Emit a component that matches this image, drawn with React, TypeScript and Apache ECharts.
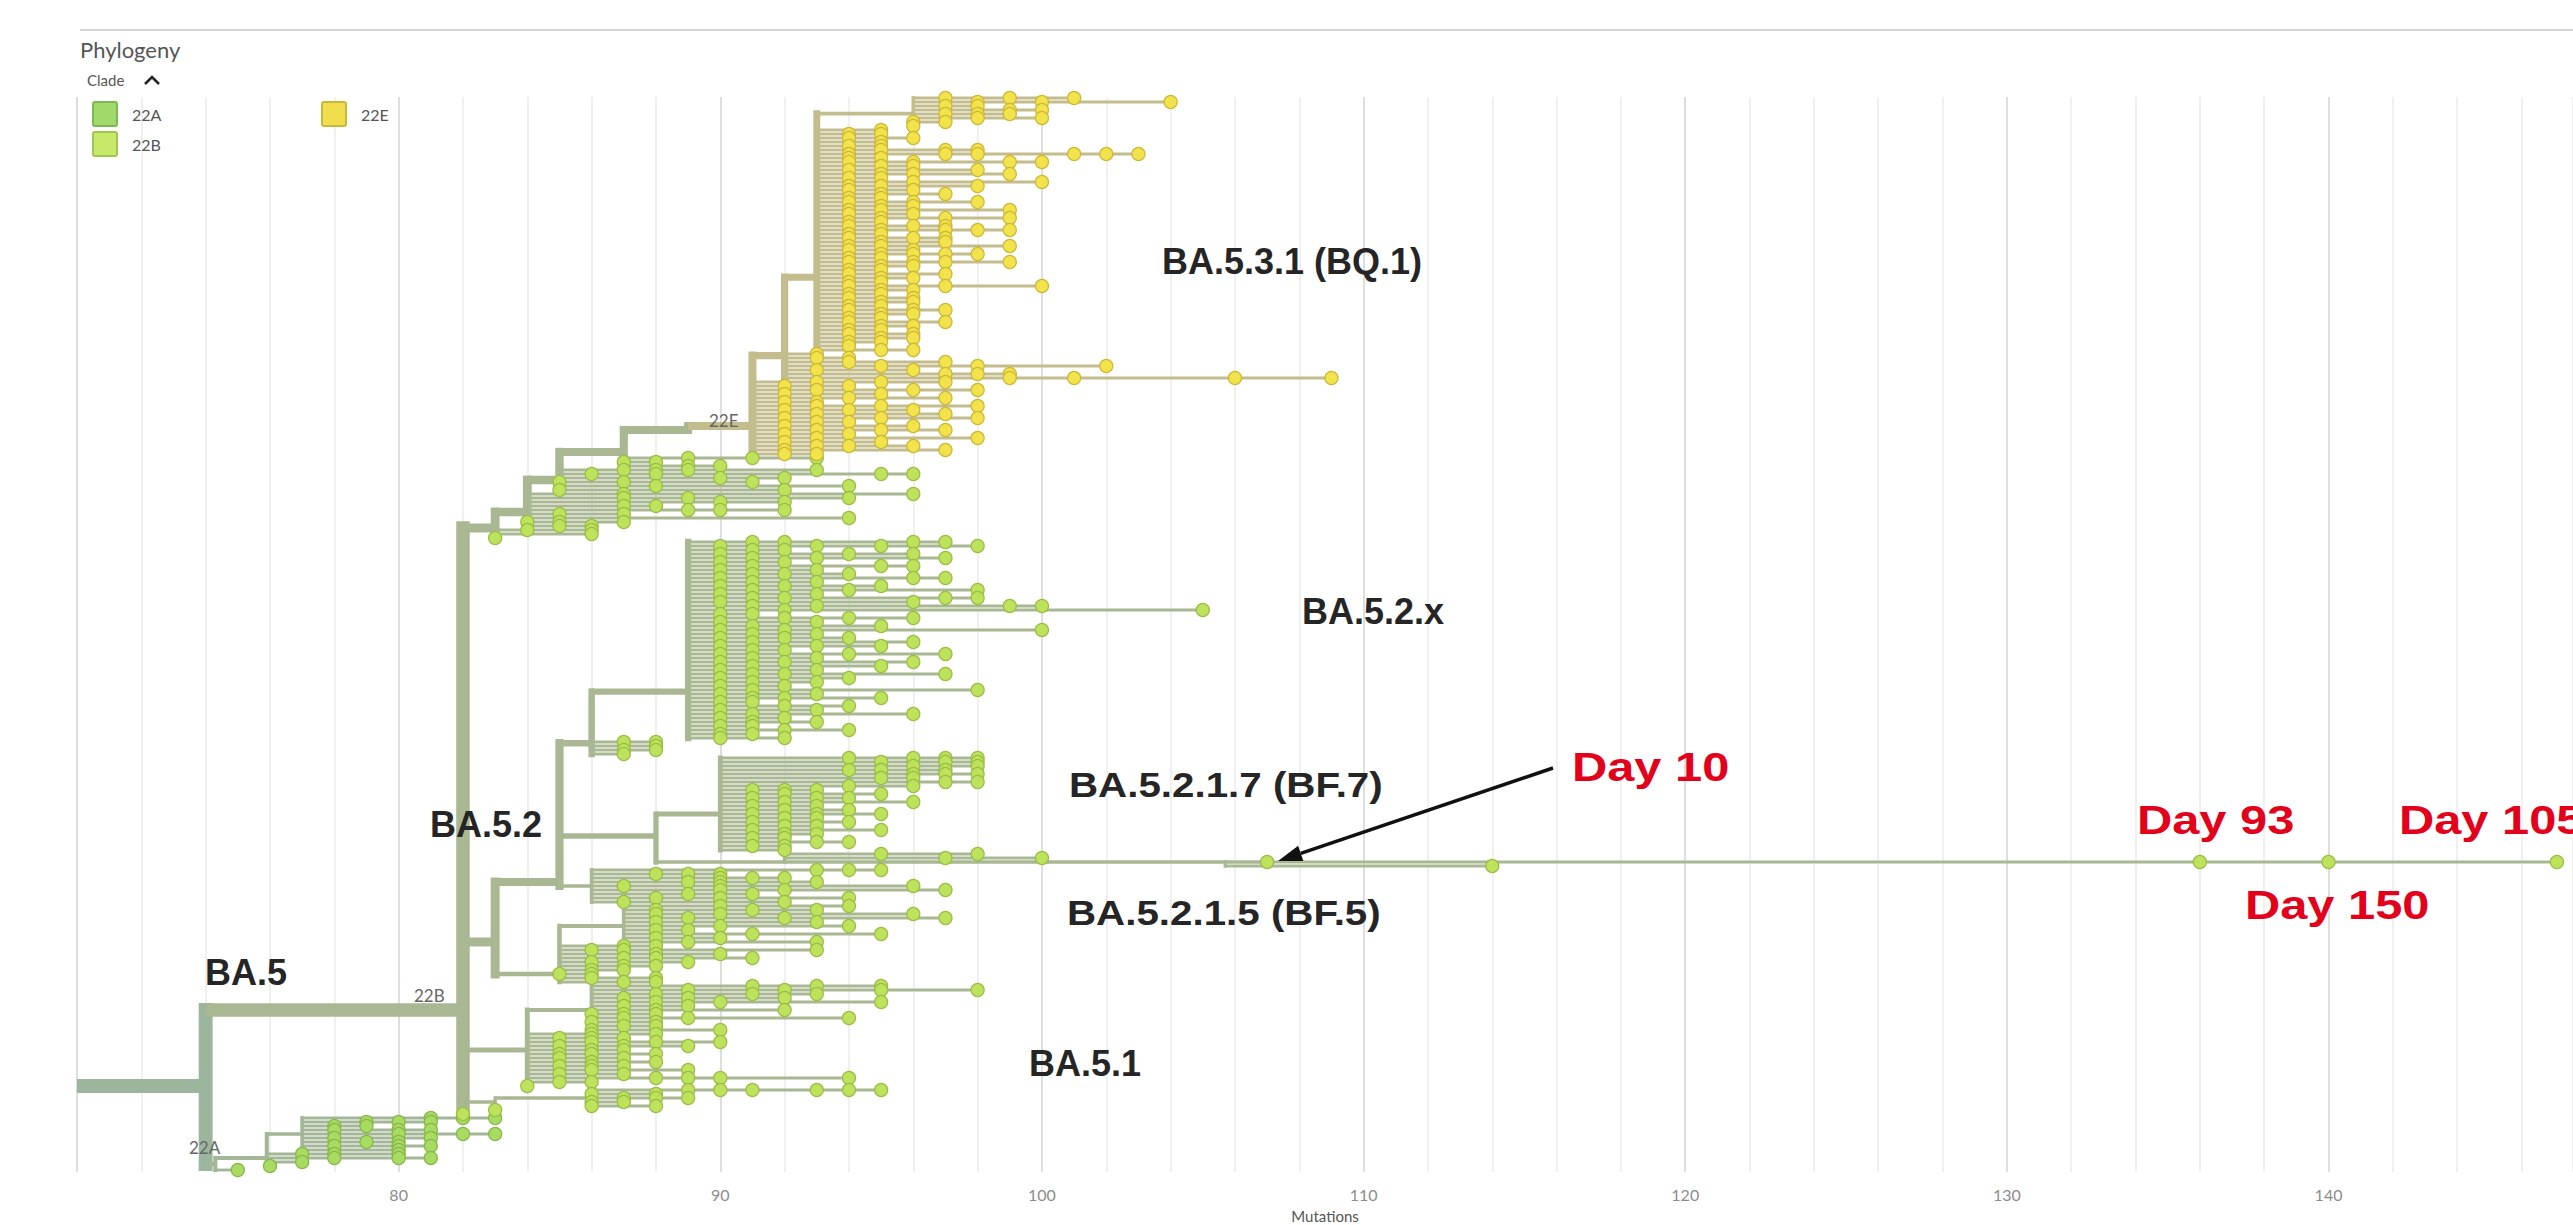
import React, { useEffect, useRef } from "react";
import * as echarts from "echarts";

// ---------------- data ----------------
const axisMin = 70;
const axisMax = 147.6;
const tickStep = 2;
const labelStep = 10;
const rowMin = -0.25;
const rowMax = 268.5;

// internal nodes of the tree: [id, parent, mutations, row]
const internalNodes: [string, string, number, number][] = [
  ["R", "", 70, 247],
  ["N74", "R", 74, 247],
  ["BA5", "N74", 82, 228],
  ["S83", "BA5", 83, 107.5],
  ["S84", "S83", 84, 103.5],
  ["S85", "S84", 85, 95.5],
  ["S87", "S85", 87, 88.5],
  ["S89", "S87", 89, 83],
  ["N22E", "S89", 91, 82],
  ["Q92", "N22E", 92, 64.4],
  ["Q93", "Q92", 93, 44.8],
  ["Q96", "Q93", 96, 3.9],
  ["BA52", "BA5", 83, 211],
  ["U85", "BA52", 85, 196],
  ["M86", "U85", 86, 161.3],
  ["X89", "M86", 89, 148.4],
  ["F88", "U85", 88, 184.5],
  ["F90", "F88", 90, 179],
  ["F92", "F88", 92, 191],
  ["C105", "F92", 105.7, 191],
  ["C136", "C105", 136, 191],
  ["C140", "C136", 140, 191],
  ["U86", "U85", 86, 197],
  ["L85", "BA52", 85, 219],
  ["L87", "L85", 87, 207],
  ["BA51", "BA5", 84, 238],
  ["B51s", "BA51", 86, 228],
  ["B83", "BA5", 83, 251],
  ["B86", "B83", 86, 250],
  ["A22", "N74", 74.3, 266.5],
  ["A76", "A22", 75.9, 265],
  ["A77", "A76", 77, 259],
];

// tip groups: [parent node, first row, one entry per row: a tip's mutations,
// or a chain of samples along one lineage drawn on the same row]
type Entry = number | number[];
const bq1Tips: [string, number, Entry[]][] = [
  ["Q96", 0, [[97, 99, 101], [98, 100, 104], [97, 98], [99, 100], [97, 98, 99], [98, 100], [96, 97], 96]],
  ["Q93", 8, [
    95, [94, 95], [94, 96], 95, [94, 95], [95, 97, 98], [94, 97, 98, 101, 102, 103], [94, 95],
    [94, 96, 99, 100], [95, 96], [94, 98], [95, 96, 99], [94, 95], [96, 100], [94, 95, 98], [94, 96],
    [95, 97], [94, 95], [94, 96, 98], [95, 96], [94, 95, 99], [94, 96], [95, 97, 99], [94, 95],
    [94, 96, 97], [95, 97, 98, 99], [94, 95], [94, 96, 97], [95, 97], [94, 95, 99], [94, 96], [95, 96, 97, 98],
    [94, 95], [94, 96, 97, 99], [95, 96], [94, 95], [94, 97], [95, 96], [94, 95], [94, 97, 100],
    [95, 96], [94, 95], [94, 96], [95, 96], [94, 95], [94, 96, 97], [95, 96], [94, 95],
    [94, 97], [95, 96], [94, 95], [94, 96], [95, 96], [94, 95], 94, [95, 96],
  ]],
  ["Q92", 64, [93, [93, 94], [94, 97], [95, 98, 102], [93, 96], [97, 98, 99], [99, 101, 106, 109]]],
  ["N22E", 71, [
    [93, 95, 97], [92, 94], [93, 96, 98], [92, 95], [94, 97], [92, 93], [93, 95, 98], [92, 94, 96],
    [93, 97], [92, 95, 98], [93, 94], [92, 96], [93, 95, 97], [92, 94], [93, 98], [92, 95],
    [93, 94, 96], [92, 97], [92, 93],
  ]],
];
const stairTips: [string, number, Entry[]][] = [
  ["S87", 90, [[89, 91, 93], [87, 88], [89, 90]]],
  ["S85", 93, [[87, 88, 89, 93], [86, 88, 95, 96], [90, 92], [85, 87, 91], [88, 94], [85, 92]]],
  ["S84", 99, [[87, 96], [87, 89, 94], [90, 92], [87, 88], [89, 90, 92], [85, 87], 94, [84, 85, 87], [85, 86]]],
  ["S83", 108, [[84, 86], 86, 83]],
];
const ba52xTips: [string, number, Entry[]][] = [
  ["X89", 111, [
    [91, 92, 96, 97], [90, 93, 95, 98], [91, 92], [90, 94, 96], [91, 93, 97], [90, 92], [91, 95, 96], [90, 93],
    [91, 92, 94], [90, 96, 97], [91, 93], [90, 92, 95], [91, 94, 98], [90, 93], [91, 92, 97, 98], [90, 96],
    [91, 93, 99, 100], [92, 105], [90, 91], [92, 94, 96], [90, 93], [91, 95], [90, 92, 100], [91, 93],
    [90, 92, 94], [91, 96], [90, 93, 95], [91, 92], [90, 94, 97], [91, 93], [90, 92, 96], [91, 95],
    [90, 93], [91, 92, 97], [90, 94], [91, 93], [90, 92], [91, 98], [90, 93], [91, 92, 95],
    [90, 91], [92, 94], [90, 93], [91, 96], [90, 92], [91, 93], [90, 91], [92, 94], [90, 91], [90, 92],
  ]],
  ["M86", 161, [[87, 88], 88, [87, 88], 87]],
];
const bf7Tips: [string, number, Entry[]][] = [
  ["F90", 165, [
    [94, 96, 97, 98], [95, 97, 98], [96, 98], [94, 95, 97], [96, 97, 98], [95, 96], [97, 98], [94, 96],
    [91, 92, 93], [92, 95], [91, 93, 94], [92, 96], [91, 93], [92, 94], [91, 93, 95], [92, 93],
    [91, 94], [92, 93], [91, 95], [92, 93], [91, 92], [93, 94], [91, 92], 92,
  ]],
];
const bf5Tips: [string, number, Entry[]][] = [
  ["F92", 189, [[95, 98], [97, 100]]],
  ["C105", 191, [107]],
  ["C105", 192, [114]],
  ["C136", 191, [136]],
  ["C140", 191, [140]],
  ["C140", 191, [147.1]],
];
const ba52LowerTips: [string, number, Entry[]][] = [
  ["U86", 193, [[93, 94, 95], [88, 89, 90], [90, 91, 92], [89, 90, 93], [87, 90, 96], [90, 92, 97], [89, 91], [88, 90, 94], [87, 92]]],
  ["L87", 202, [[90, 94], [88, 91, 93], [88, 90, 96], [89, 92, 97], [88, 93], [90, 94], [88, 89], [91, 95], [88, 90], [89, 93]]],
  ["L85", 212, [[87, 88], [86, 87, 93], [88, 90], [87, 88, 91], [86, 89], [87, 88], [86, 87], [85, 86], [86, 88], [87, 88]]],
];
const ba51Tips: [string, number, Entry[]][] = [
  ["B51s", 222, [[91, 93, 95], [89, 92, 95, 98], [88, 91, 93], [87, 89, 92], [88, 90, 95], [87, 89], [88, 92], [86, 87, 88], [87, 89, 94], [86, 88], [87, 88], [86, 90]]],
  ["BA51", 234, [[86, 88], [85, 86, 87], [86, 88, 90], [85, 87, 89], [86, 87], [85, 86, 88], [85, 87], [86, 88], [85, 86, 87], [86, 89], [85, 87], [88, 89, 90, 94], [85, 86], 84]],
  ["B86", 248, [[89, 90, 91, 93, 94, 95], [86, 88], [87, 88, 89], [86, 87], [86, 88]]],
  ["B83", 253, [83]],
  ["BA5", 254, [82]],
];
const clade22ATips: [string, number, Entry[]][] = [
  ["A77", 255, [[81, 82, 83], [79, 80, 81], [78, 79], [78, 80, 81], [80, 82, 83], [78, 81], [79, 80], [78, 80, 81], 80]],
  ["A76", 264, [[77, 78, 80], [78, 80, 81], 77, 76]],
  ["A22", 268, [75]],
];

const legendClades = ["22A", "22B", "22E"];

// ---------------- styles ----------------
const tipFill: Record<string, string> = { "22A": "#a9da62", "22B": "#bfe25c", "22E": "#f2e24c" };
const tipStroke: Record<string, string> = { "22A": "#86b94a", "22B": "#98bf45", "22E": "#cdb935" };
const legendFill: Record<string, string> = { "22A": "#a2d96b", "22B": "#c6e96a", "22E": "#f1de4c" };
const legendStroke: Record<string, string> = { "22A": "#7db756", "22B": "#9fc552", "22E": "#ccb73c" };
const branchColor: Record<string, string> = { root: "#9cb59d", "22A": "#a3b697", "22B": "#a9b793", "22E": "#c3bc8d" };
const branchKeys = ["root", "22A", "22B", "22E"];

function buildOption() {
  type N = { id: string; parent: string; x: number; row: number; childRows: number[]; count: number };
  const nodes: Record<string, N> = {};
  internalNodes.forEach(([id, parent, x, row]) => {
    nodes[id] = { id, parent, x, row, childRows: [], count: 0 };
  });
  internalNodes.forEach(([id, parent]) => {
    if (parent) nodes[parent].childRows.push(nodes[id].row);
  });
  const tips: { parent: string; row: number; ms: number[] }[] = [];
  const groups = [...bq1Tips, ...stairTips, ...ba52xTips, ...bf7Tips, ...bf5Tips, ...ba52LowerTips, ...ba51Tips, ...clade22ATips];
  groups.forEach(([parent, r0, entries]) => {
    entries.forEach((e, i) => {
      const row = r0 + i;
      const ms = Array.isArray(e) ? e : [e];
      tips.push({ parent, row, ms });
      nodes[parent].childRows.push(row);
      let p = parent;
      while (p) {
        nodes[p].count++;
        p = nodes[p].parent;
      }
    });
  });
  const cladeOf = (id: string) => {
    let p = id;
    while (p) {
      if (p === "N22E") return "22E";
      if (p === "A22") return "22A";
      if (p === "BA5") return "22B";
      p = nodes[p].parent;
    }
    return "root";
  };
  const width = (n: number) => 2.5 + 10.5 * Math.pow(n / 240, 0.65);

  const inner: number[][] = [];
  Object.values(nodes).forEach((n) => {
    const w = width(n.count);
    const c = branchKeys.indexOf(cladeOf(n.id));
    if (n.parent && nodes[n.parent].x !== n.x) inner.push([nodes[n.parent].x, n.row, n.x, n.row, w, c, 0]);
    const lo = Math.min(n.row, ...n.childRows);
    const hi = Math.max(n.row, ...n.childRows);
    if (hi > lo) inner.push([n.x, lo, n.x, hi, w, c, 1]);
  });
  inner.sort((a, b) => b[4] - a[4]);
  const tipSegs: number[][] = [];
  tips.forEach((t) => {
    const px = nodes[t.parent].x;
    const end = Math.max(...t.ms);
    if (end > px) tipSegs.push([px, t.row, end, t.row, width(1), branchKeys.indexOf(cladeOf(t.parent)), 0]);
  });
  const segs = [...inner, ...tipSegs];

  const points: Record<string, number[][]> = { "22A": [], "22B": [], "22E": [] };
  tips.forEach((t) => {
    const c = cladeOf(t.parent);
    t.ms.forEach((m) => points[c === "root" ? "22B" : c].push([m, t.row]));
  });

  const uiFont = "Lato";
  const labelFont = 'bold 36px "Liberation Sans"';
  const dayFont = 'bold 40px "Liberation Sans"';
  const text = (t: string, x: number, y: number, font: string, fill: string, extra: any = {}) => ({
    type: "text",
    x,
    y,
    z: 100,
    style: { text: t, font, fill, textAlign: "left", textVerticalAlign: "middle" },
    ...extra,
  });

  const legend: any[] = [];
  const legendPos: Record<string, [number, number]> = { "22A": [93, 102], "22B": [93, 132], "22E": [322, 102] };
  legendClades.forEach((c) => {
    const [lx, ly] = legendPos[c];
    legend.push({
      type: "rect",
      z: 100,
      shape: { x: lx, y: ly, width: 24, height: 24, r: 2 },
      style: { fill: legendFill[c], stroke: legendStroke[c], lineWidth: 2 },
    });
    legend.push(text(c, lx + 39, ly + 12, `16px ${uiFont}`, "#555"));
  });

  // arrow pointing to the Day 10 sample
  const arrowTip: [number, number] = [1278, 861];
  const arrowStart: [number, number] = [1553, 768];
  const dx = arrowStart[0] - arrowTip[0];
  const dy = arrowStart[1] - arrowTip[1];
  const len = Math.hypot(dx, dy);
  const ux = dx / len, uy = dy / len;
  const bx = arrowTip[0] + ux * 24, by = arrowTip[1] + uy * 24;
  const nx = -uy * 8, ny = ux * 8;

  const graphic: any[] = [
    { type: "line", z: 100, shape: { x1: 80, y1: 30, x2: 2573, y2: 30 }, style: { stroke: "#d4d4d4", lineWidth: 2 } },
    text("Phylogeny", 80, 49, `22px ${uiFont}`, "#555"),
    text("Clade", 87, 80, `15px ${uiFont}`, "#555"),
    {
      type: "polyline",
      z: 100,
      shape: { points: [[145, 84], [152, 77], [159, 84]] },
      style: { stroke: "#222", lineWidth: 2.6, fill: null },
    },
    ...legend,
    text("22E", 709, 420, `17px ${uiFont}`, "#666"),
    text("22B", 414, 995, `17px ${uiFont}`, "#666"),
    text("22A", 189, 1147, `17px ${uiFont}`, "#666"),
    text("BA.5.3.1 (BQ.1)", 1162, 261, labelFont, "#252525"),
    text("BA.5.2.x", 1302, 611, labelFont, "#252525"),
    text("BA.5.2.1.7 (BF.7)", 1069, 784, labelFont, "#252525", { scaleX: 1.12 }),
    text("BA.5.2.1.5 (BF.5)", 1067, 912, labelFont, "#252525", { scaleX: 1.12 }),
    text("BA.5.1", 1029, 1063, labelFont, "#252525"),
    text("BA.5.2", 430, 824, labelFont, "#252525"),
    text("BA.5", 205, 972, labelFont, "#252525"),
    text("Day 10", 1572, 767, dayFont, "#e2001a", { scaleX: 1.22 }),
    text("Day 93", 2137, 820, dayFont, "#e2001a", { scaleX: 1.22 }),
    text("Day 105", 2399, 820, dayFont, "#e2001a", { scaleX: 1.22 }),
    text("Day 150", 2245, 905, dayFont, "#e2001a", { scaleX: 1.22 }),
    {
      type: "line",
      z: 100,
      shape: { x1: arrowStart[0], y1: arrowStart[1], x2: bx, y2: by },
      style: { stroke: "#111", lineWidth: 3.5 },
    },
    {
      type: "polygon",
      z: 100,
      shape: { points: [arrowTip, [bx + nx, by + ny], [bx - nx, by - ny]] },
      style: { fill: "#111" },
    },
  ];

  const scatter = (c: string) => ({
    type: "scatter",
    name: c,
    data: points[c],
    symbol: "circle",
    symbolSize: 13,
    itemStyle: { color: tipFill[c], borderColor: tipStroke[c], borderWidth: 1.3, opacity: 1 },
    z: 3,
    silent: true,
  });

  return {
    animation: false,
    grid: { left: 77, right: 0, top: 97, bottom: 53, containLabel: false, outerBoundsMode: "none" },
    xAxis: {
      type: "value",
      min: axisMin,
      max: axisMax,
      interval: tickStep,
      name: "Mutations",
      nameLocation: "middle",
      nameGap: 36,
      nameTextStyle: { fontFamily: uiFont, fontSize: 15, color: "#555" },
      axisLine: { show: false },
      axisTick: { show: false },
      axisLabel: {
        margin: 14,
        fontFamily: uiFont,
        fontSize: 16,
        color: "#8c8c8c",
        showMaxLabel: false,
        formatter: (v: number) => (Math.abs(v % labelStep) < 1e-6 && v > axisMin ? String(Math.round(v)) : ""),
      },
      splitLine: {
        show: true,
        lineStyle: { color: ["#d3d3d3", "#ebebeb", "#ebebeb", "#ebebeb", "#ebebeb"], width: 1.5 },
      },
    },
    yAxis: { type: "value", min: rowMin, max: rowMax, inverse: true, show: false, splitLine: { show: false } },
    series: [
      {
        type: "custom",
        name: "branches",
        silent: true,
        z: 2,
        data: segs,
        renderItem: (_p: any, api: any) => {
          const a = api.coord([api.value(0), api.value(1)]);
          const b = api.coord([api.value(2), api.value(3)]);
          return {
            type: "line",
            shape: { x1: a[0], y1: a[1], x2: b[0], y2: b[1] },
            style: {
              stroke: branchColor[branchKeys[api.value(5)]],
              lineWidth: api.value(4),
              lineCap: api.value(6) === 1 ? "square" : "butt",
            },
          };
        },
      },
      scatter("22A"),
      scatter("22B"),
      scatter("22E"),
    ],
    graphic,
  };
}

export default function App() {
  const ref = useRef<HTMLDivElement>(null);
  useEffect(() => {
    document.body.style.margin = "0";
    const chart = echarts.init(ref.current as HTMLDivElement, null, { renderer: "svg" });
    chart.setOption(buildOption() as any);
    return () => chart.dispose();
  }, []);
  return <div ref={ref} style={{ width: 2573, height: 1225, background: "#fff" }} />;
}
